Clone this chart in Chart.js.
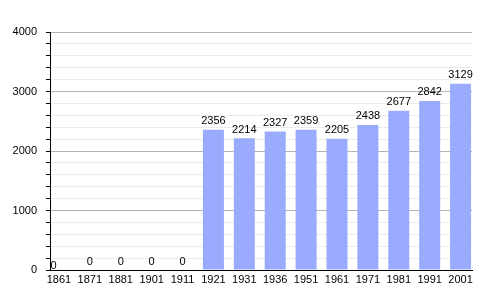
<!DOCTYPE html>
<html>
<head>
<meta charset="utf-8">
<script src="https://cdn.jsdelivr.net/npm/chart.js@4"></script>
<style>
  html, body { margin:0; padding:0; background:#fff; }
  #wrap { width:500px; height:300px; }
</style>
</head>
<body>
<div id="wrap"><canvas id="c" width="500" height="300"></canvas></div>
<script>

const years  = ['1861','1871','1881','1901','1911','1921','1931','1936','1951','1961','1971','1981','1991','2001']
const people = [0, 0, 0, 0, 0, 2356, 2214, 2327, 2359, 2205, 2438, 2677, 2842, 3129]

const yMax  = 4000
const yStep = 200
const yMajor = 1000

const barColor = '#9aabfd'
const fontName = '"Liberation Sans", Arial, sans-serif'


//draw the value over each bar
const valueLabels = {
      id: 'valueLabels',
      afterDatasetsDraw(chart){
            const ctx  = chart.ctx
            const meta = chart.getDatasetMeta(0)
            ctx.save()
            ctx.font = '11px ' + fontName
            ctx.fillStyle = '#000'
            ctx.textBaseline = 'bottom'
            meta.data.forEach((bar, i)=>{
                  const v = people[i]
                  if(i === 0){  // first zero sits in the corner, on the axis
                        ctx.textAlign = 'left'
                        ctx.fillText(String(v), chart.chartArea.left + 0.5, chart.chartArea.bottom + 1)
                        return
                  }
                  ctx.textAlign = 'center'
                  ctx.fillText(String(v), bar.x, bar.y - 3)
            })
            ctx.restore()
      }
}


const points = people.map((v, i)=>({ x:i, y:v }))

const setup = {
      type: 'bar',
      data: {
            datasets: [{
                  data: points,
                  backgroundColor: barColor,
                  borderWidth: 0,
                  barPercentage: 0.68,
                  categoryPercentage: 1,
            }]
      },
      options: {
            responsive: false,
            animation: false,
            layout: { padding: { top: 32, right: 28, left: 0, bottom: 0 } },
            plugins: {
                  legend: { display:false },
                  tooltip: { enabled:false },
            },
            scales: {
                  x: {
                        type: 'linear',
                        offset: false,
                        min: -0.29,
                        max: years.length - 0.63,
                        grid: { display:false, drawTicks:false, offset:false },
                        border: { color:'#000', width:1 },
                        ticks: {
                              stepSize: 1,
                              includeBounds: false,
                              autoSkip: false,
                              maxRotation: 0,
                              color: '#000',
                              font: { family:fontName, size:11 },
                              padding: 3,
                              callback: (v)=> Number.isInteger(v) ? years[v] : '',
                        },
                        afterFit: (s)=>{ s.height = 30 },
                  },
                  y: {
                        min: 0,
                        max: yMax,
                        grid: {
                              color: (c)=> (c.tick && c.tick.value % yMajor === 0) ? '#b4b4b4' : '#ebebeb',
                              tickColor: '#000',
                              tickLength: 4,
                        },
                        border: { color:'#000', width:1 },
                        ticks: {
                              stepSize: yStep,
                              autoSkip: false,
                              color: '#000',
                              font: { family:fontName, size:11 },
                              padding: 9,
                              callback: (v)=> v % yMajor === 0 ? String(v) : '',
                        },
                        afterFit: (s)=>{ s.width = 50 },
                  }
            }
      },
      plugins: [valueLabels]
}

new Chart(document.getElementById('c'), setup)
</script>
</body>
</html>
